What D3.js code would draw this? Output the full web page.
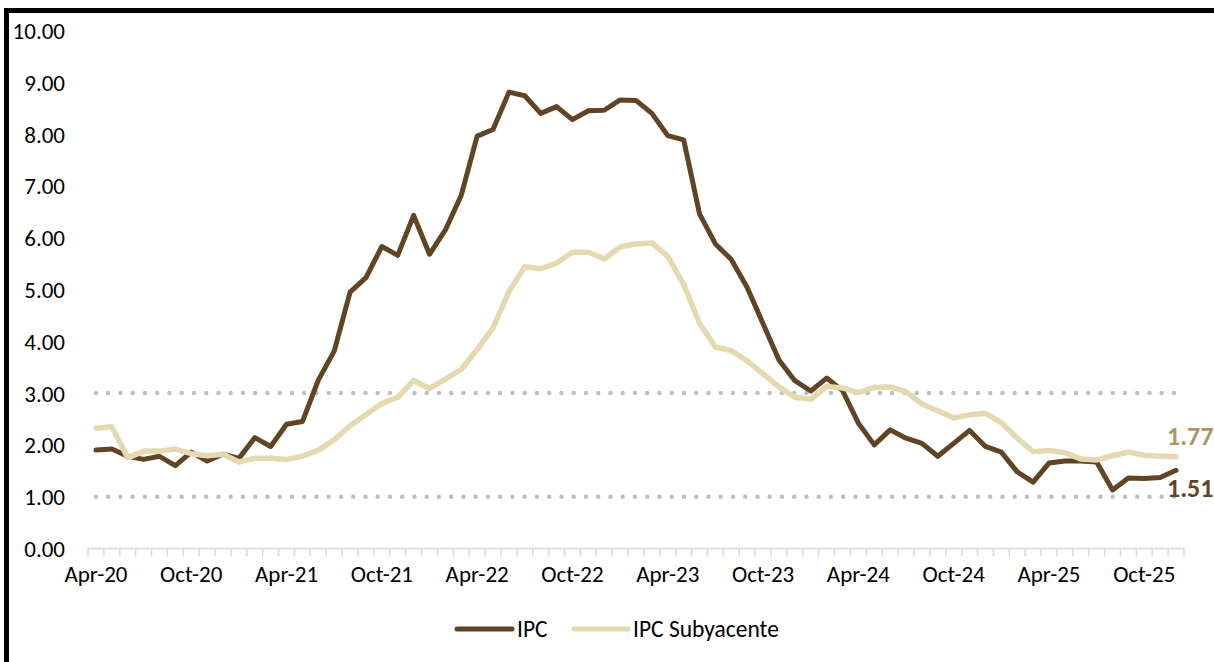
<!DOCTYPE html>
<html>
<head>
<meta charset="utf-8">
<script src="https://cdn.jsdelivr.net/npm/d3@7"></script>
<style>
  html, body { margin: 0; padding: 0; background: #fff; overflow: hidden; }
  svg { display: block; }
  text { font-family: Carlito, Calibri, Lato, sans-serif; }
</style>
</head>
<body>
<svg id="chart" width="1214" height="662"></svg>
<script>
// ---- data ----
const months = [
  "Apr-20","May-20","Jun-20","Jul-20","Aug-20","Sep-20","Oct-20","Nov-20","Dec-20",
  "Jan-21","Feb-21","Mar-21","Apr-21","May-21","Jun-21","Jul-21","Aug-21","Sep-21","Oct-21","Nov-21","Dec-21",
  "Jan-22","Feb-22","Mar-22","Apr-22","May-22","Jun-22","Jul-22","Aug-22","Sep-22","Oct-22","Nov-22","Dec-22",
  "Jan-23","Feb-23","Mar-23","Apr-23","May-23","Jun-23","Jul-23","Aug-23","Sep-23","Oct-23","Nov-23","Dec-23",
  "Jan-24","Feb-24","Mar-24","Apr-24","May-24","Jun-24","Jul-24","Aug-24","Sep-24","Oct-24","Nov-24","Dec-24",
  "Jan-25","Feb-25","Mar-25","Apr-25","May-25","Jun-25","Jul-25","Aug-25","Sep-25","Oct-25","Nov-25","Dec-25"
];
const ipc = [
  1.90,1.92,1.78,1.72,1.78,1.60,1.86,1.69,1.82,
  1.74,2.14,1.97,2.40,2.45,3.25,3.81,4.95,5.23,5.83,5.66,6.43,
  5.68,6.15,6.82,7.96,8.09,8.81,8.74,8.40,8.53,8.28,8.45,8.46,
  8.66,8.65,8.40,7.97,7.89,6.46,5.88,5.58,5.04,4.34,3.64,3.24,
  3.04,3.29,3.05,2.42,2.00,2.29,2.13,2.03,1.78,2.03,2.28,1.97,
  1.86,1.48,1.28,1.65,1.69,1.69,1.67,1.13,1.36,1.35,1.37,1.51
];
const ipcSubyacente = [
  2.32,2.35,1.75,1.88,1.88,1.92,1.83,1.79,1.82,
  1.67,1.74,1.74,1.72,1.78,1.90,2.10,2.37,2.58,2.80,2.92,3.24,
  3.09,3.27,3.46,3.84,4.26,4.96,5.44,5.40,5.51,5.72,5.72,5.59,
  5.82,5.88,5.90,5.64,5.10,4.35,3.89,3.82,3.62,3.37,3.12,2.92,
  2.88,3.13,3.10,3.01,3.11,3.12,3.03,2.79,2.66,2.52,2.58,2.61,
  2.43,2.13,1.87,1.89,1.85,1.73,1.71,1.79,1.86,1.80,1.78,1.77
];
const yTicks = [0,1,2,3,4,5,6,7,8,9,10];
const targetBand = [1, 3];
const seriesNames = ["IPC", "IPC Subyacente"];

// ---- layout ----
const svg = d3.select("#chart");
const colDark = "#5f4526", colLight = "#e4d9b1", colLightLabel = "#ab9669";
const fontSize = 23;

// frame
svg.append("rect").attr("x", 6.5).attr("y", 10.5).attr("width", 1220).attr("height", 700)
  .attr("fill", "none").attr("stroke", "#000").attr("stroke-width", 5);

const x = d3.scaleBand().domain(months).range([88, 1184]).padding(0);
const cx = d => x(d) + x.bandwidth() / 2;
const y = d3.scaleLinear().domain([0, 10]).range([548.5, 30.5]);

// y axis labels
const yAxis = d3.axisLeft(y).tickValues(yTicks).tickFormat(d3.format(".2f")).tickSize(0).tickPadding(0);
const gy = svg.append("g").attr("transform", "translate(65,0)").call(yAxis);
gy.select(".domain").remove();
gy.selectAll("text").attr("font-size", fontSize).attr("fill", "#000")
  .style("font-family", "Carlito, Calibri, Lato, sans-serif").attr("dy", "0.35em");

// dotted target lines
svg.append("g").selectAll("line").data(targetBand).join("line")
  .attr("x1", cx(months[0])).attr("x2", cx(months[months.length - 1]) + 1)
  .attr("y1", d => y(d)).attr("y2", d => y(d))
  .attr("stroke", "#bfbfbf").attr("stroke-width", 4.5)
  .attr("stroke-linecap", "round").attr("stroke-dasharray", "0 12.25");

// x axis
const gx = svg.append("g");
gx.append("line").attr("x1", 88).attr("x2", 1184).attr("y1", y(0)).attr("y2", y(0))
  .attr("stroke", "#d9d9d9").attr("stroke-width", 1.5);
const bounds = months.map(m => x(m)).concat([x(months[months.length - 1]) + x.bandwidth()]);
gx.selectAll("line.tk").data(bounds).join("line").attr("class", "tk")
  .attr("x1", d => d).attr("x2", d => d).attr("y1", y(0)).attr("y2", y(0) + 8)
  .attr("stroke", "#d9d9d9").attr("stroke-width", 1.5);
gx.selectAll("text").data(months.filter((m, i) => i % 6 === 0)).join("text")
  .attr("x", d => cx(d)).attr("y", 582).attr("text-anchor", "middle")
  .attr("font-size", fontSize).attr("fill", "#000").text(d => d);

// lines
const line = d3.line().x((d, i) => cx(months[i])).y(d => y(d)).curve(d3.curveLinear);
svg.append("path").datum(ipc).attr("d", line).attr("fill", "none")
  .attr("stroke", colDark).attr("stroke-width", 5).attr("stroke-linejoin", "round").attr("stroke-linecap", "round");
svg.append("path").datum(ipcSubyacente).attr("d", line).attr("fill", "none")
  .attr("stroke", colLight).attr("stroke-width", 5.5).attr("stroke-linejoin", "round").attr("stroke-linecap", "round");

// end labels
const last = months.length - 1;
svg.append("text").attr("x", 1167).attr("y", 445).attr("font-size", 26).attr("font-weight", "bold")
  .attr("fill", colLightLabel).text(ipcSubyacente[last].toFixed(2));
svg.append("text").attr("x", 1167).attr("y", 497).attr("font-size", 26).attr("font-weight", "bold")
  .attr("fill", colDark).text(ipc[last].toFixed(2));

// legend
const legend = svg.append("g");
const leg = [
  {name: seriesNames[0], color: colDark, x0: 457, x1: 512, tx: 517},
  {name: seriesNames[1], color: colLight, x0: 574, x1: 628, tx: 633}
];
legend.selectAll("line").data(leg).join("line")
  .attr("x1", d => d.x0).attr("x2", d => d.x1).attr("y1", 629).attr("y2", 629)
  .attr("stroke", d => d.color).attr("stroke-width", 5).attr("stroke-linecap", "round");
legend.selectAll("text").data(leg).join("text")
  .attr("x", d => d.tx).attr("y", 637).attr("font-size", 23.5).attr("fill", "#000").text(d => d.name);
</script>
</body>
</html>
